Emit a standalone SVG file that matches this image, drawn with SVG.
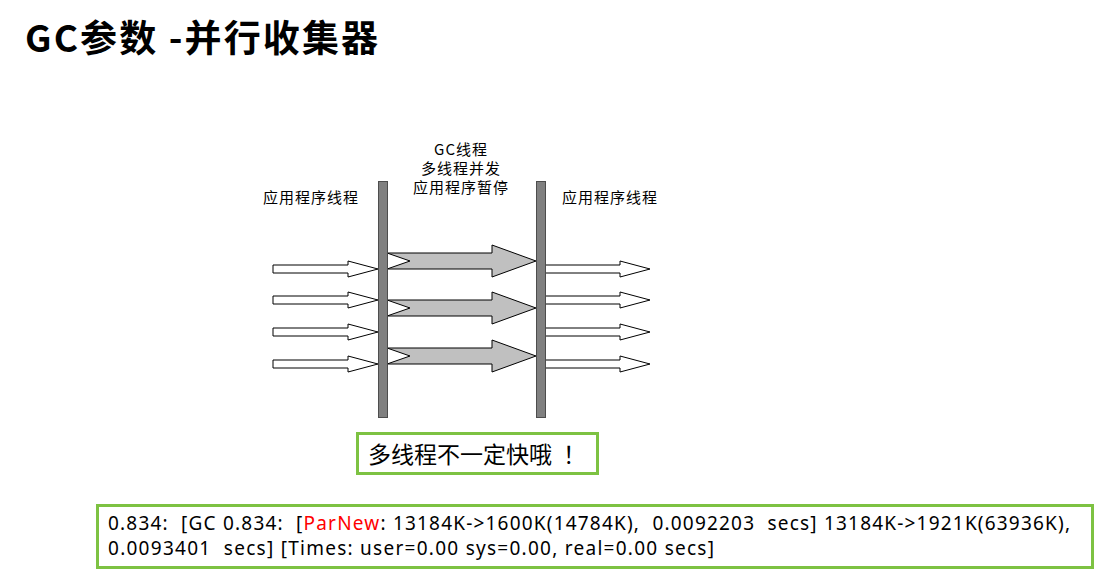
<svg xmlns="http://www.w3.org/2000/svg" width="1098" height="574" viewBox="0 0 1098 574">
<style>
.cjk{font-family:"Noto Sans CJK SC","Noto Sans",sans-serif;fill:#000}
.lbl{font-size:15px;letter-spacing:1px}
.mono{font-family:"Noto Sans","Noto Sans CJK SC",sans-serif;font-size:19px;fill:#000;white-space:pre}
.wa{fill:#fff;stroke:#000;stroke-width:1}
.ga{fill:#c0c0c0;stroke:#000;stroke-width:1}
.bar{fill:#808080;stroke:#4d4d4d;stroke-width:1}
.gbox{fill:#fff;stroke:#7dc242;stroke-width:3}
</style>
<defs>
<path id="wa" d="M0,-4 H75 V-8 L105,0 L75,8 V4 H0 Z"/>
<path id="ga" d="M0,-8 H105 V-16 L149,0 L105,16 V8 H0 L23,0 Z"/>
</defs>
<rect width="1098" height="574" fill="#fff"/>
<g id="title">
<text class="cjk" x="25" y="52" font-size="37" font-weight="bold" textLength="353">GC参数 -并行收集器</text>
</g>
<g id="connectors">
<use href="#wa" class="wa" transform="translate(273,269)"/>
<use href="#wa" class="wa" transform="translate(273,300)"/>
<use href="#wa" class="wa" transform="translate(273,332)"/>
<use href="#wa" class="wa" transform="translate(273,364)"/>
<use href="#ga" class="ga" transform="translate(387,261)"/>
<use href="#ga" class="ga" transform="translate(387,308)"/>
<use href="#ga" class="ga" transform="translate(387,356)"/>
<use href="#wa" class="wa" transform="translate(545,269)"/>
<use href="#wa" class="wa" transform="translate(545,300)"/>
<use href="#wa" class="wa" transform="translate(545,332)"/>
<use href="#wa" class="wa" transform="translate(545,364)"/>
</g>
<g id="bar-left">
<rect class="bar" x="378.5" y="181.5" width="9" height="236"/>
</g>
<g id="bar-right">
<rect class="bar" x="536.5" y="181.5" width="9" height="236"/>
</g>
<g id="label-left">
<text class="cjk lbl" x="263" y="203">应用程序线程</text>
</g>
<g id="label-right">
<text class="cjk lbl" x="562" y="203">应用程序线程</text>
</g>
<g id="label-gc">
<text class="cjk lbl" x="461" y="155" text-anchor="middle">GC线程</text>
<text class="cjk lbl" x="461" y="174" text-anchor="middle">多线程并发</text>
<text class="cjk lbl" x="461" y="193" text-anchor="middle">应用程序暂停</text>
</g>
<g id="note">
<rect class="gbox" x="357.5" y="433.5" width="240" height="40"/>
<text class="cjk" x="368" y="463" font-size="23">多线程不一定快哦<tspan dx="11">！</tspan></text>
</g>
<g id="log">
<rect class="gbox" x="97.5" y="505.5" width="995" height="62"/>
<text class="mono" x="108" y="530" textLength="962">0.834:  [GC 0.834:  [<tspan fill="#ff0000">ParNew</tspan>: 13184K-&gt;1600K(14784K),  0.0092203  secs] 13184K-&gt;1921K(63936K),</text>
<text class="mono" x="108" y="555" textLength="606">0.0093401  secs] [Times: user=0.00 sys=0.00, real=0.00 secs]</text>
</g>
</svg>
